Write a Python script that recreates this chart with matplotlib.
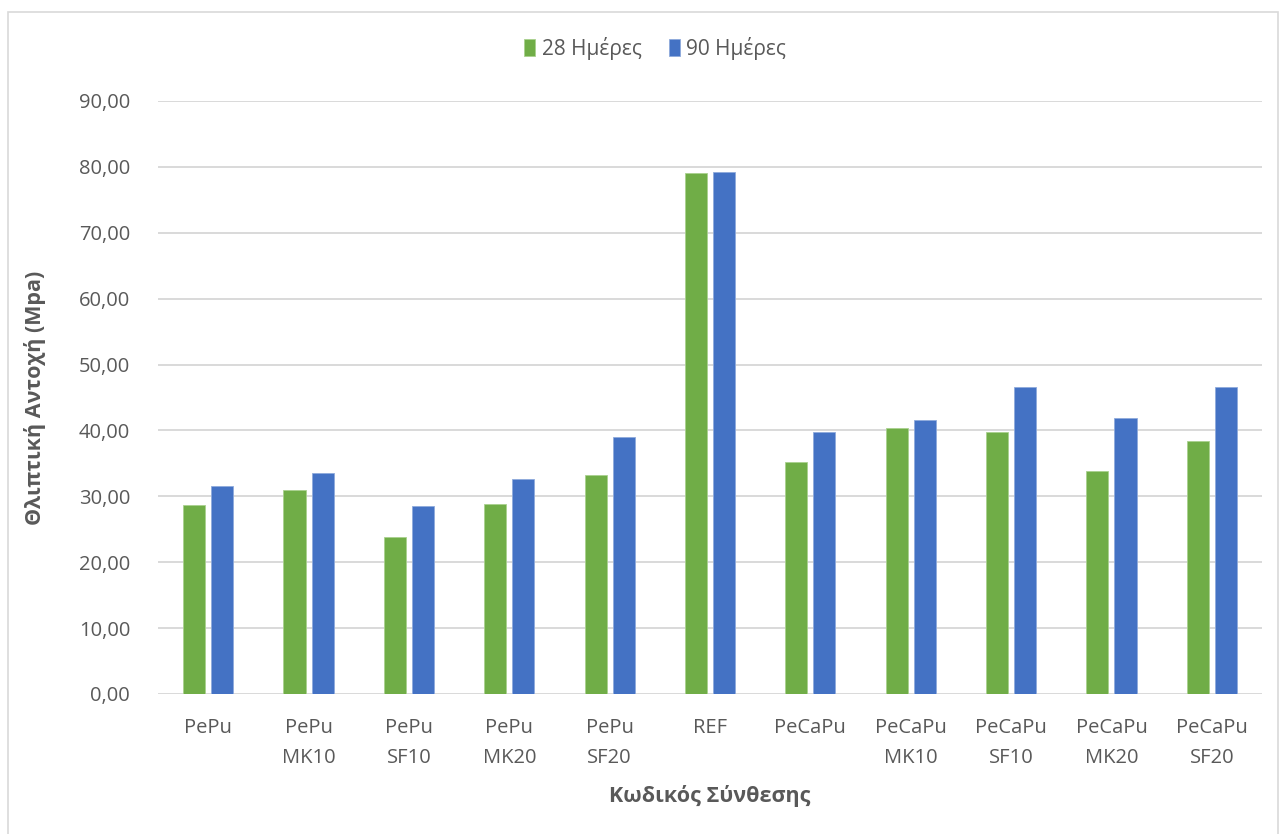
import numpy as np
import matplotlib
matplotlib.use('Agg')
import matplotlib.pyplot as plt
from matplotlib.ticker import FuncFormatter
from matplotlib.patches import Rectangle

plt.rcParams['font.family'] = ['Open Sans', 'DejaVu Sans']

# compressive strength per mix, 28 and 90 days
mixes = ['PePu', 'PePu\nMK10', 'PePu\nSF10', 'PePu\nMK20', 'PePu\nSF20', 'REF',
         'PeCaPu', 'PeCaPu\nMK10', 'PeCaPu\nSF10', 'PeCaPu\nMK20', 'PeCaPu\nSF20']
days28 = [28.7, 31.0, 23.9, 28.8, 33.2, 79.0, 35.2, 40.3, 39.7, 33.8, 38.4]
days90 = [31.6, 33.6, 28.5, 32.6, 39.0, 79.2, 39.7, 41.6, 46.6, 41.9, 46.6]
series_names = ['28 Ημέρες', '90 Ημέρες']

green = '#70AD47'
blue = '#4472C4'
txt = '#595959'

fig = plt.figure(figsize=(12.83, 8.34), dpi=100)
ax = fig.add_axes([158/1283, 140/834, 1104/1283, 593/834])

x = np.arange(len(mixes))
w = 0.22
gap = 0.06
ax.bar(x - (w + gap)/2, days28, w, color=green, label=series_names[0], zorder=3,
       edgecolor='#A9D18E', linewidth=0.6)
ax.bar(x + (w + gap)/2, days90, w, color=blue, label=series_names[1], zorder=3,
       edgecolor='#8FAADC', linewidth=0.6)

ax.set_xlim(-0.5, len(mixes) - 0.5)
ax.set_ylim(0, 90)
ax.set_yticks(np.arange(0, 91, 10))
ax.yaxis.set_major_formatter(FuncFormatter(lambda v, p: f'{v:.2f}'.replace('.', ',')))
ax.grid(axis='y', color='#D9D9D9', linewidth=1.4, zorder=0)
ax.set_xticks(x)
ax.set_xticklabels(mixes, linespacing=1.7)
for s in ax.spines.values():
    s.set_visible(False)
ax.tick_params(axis='both', length=0, labelsize=14.5, colors=txt)
ax.tick_params(axis='x', pad=17)
ax.tick_params(axis='y', pad=20)

ax.set_ylabel('Θλιπτική Αντοχή (Mpa)', fontsize=15.5, fontweight='bold', color=txt, labelpad=24)
ax.set_xlabel('Κωδικός Σύνθεσης', fontsize=15.5, fontweight='bold', color=txt, labelpad=12)

leg = fig.legend(loc='center', bbox_to_anchor=(655/1283, 1 - 48/834), ncol=2, frameon=False,
                 fontsize=15, handlelength=0.55, handleheight=0.9, handletextpad=0.3,
                 columnspacing=1.3)
for t in leg.get_texts():
    t.set_color(txt)

# chart area border, bottom edge runs off the canvas
fig.patches.append(Rectangle((8/1283, -0.02), 1270/1283, 1.02 - 12/834, transform=fig.transFigure,
                             fill=False, edgecolor='#D9D9D9', linewidth=1.2))

fig.savefig('out.png', dpi=100)
